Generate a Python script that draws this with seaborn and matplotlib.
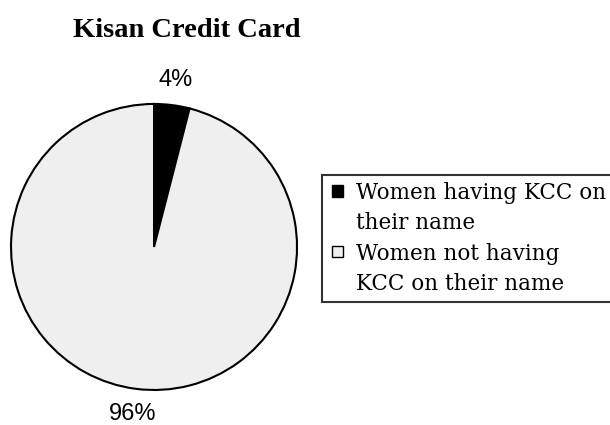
import matplotlib
matplotlib.use("Agg")
import matplotlib.pyplot as plt
import seaborn as sns
from matplotlib.patches import Patch, Rectangle
from matplotlib.legend_handler import HandlerPatch

# data
labels = ["Women having KCC on\ntheir name", "Women not having\nKCC on their name"]
shares = [4, 96]
colors = ["#000000", "#efefef"]

sns.set_style("white")
plt.rcParams["text.color"] = "black"

fig = plt.figure(figsize=(6.1, 4.25), dpi=100)
ax = fig.add_axes([0.018, 0.0824, 0.469, 0.673])

wedges, texts = ax.pie(
    shares,
    colors=colors,
    startangle=90,
    counterclock=False,
    wedgeprops={"edgecolor": "black", "linewidth": 1.5, "clip_on": False},
    labels=[f"{v}%" for v in shares],
    labeldistance=1.18,
    textprops={"family": "Liberation Sans", "fontsize": 17, "color": "black"},
)
for t in texts:
    t.set_horizontalalignment("center")
    t.set_verticalalignment("center")
ax.set_xlim(-1, 1)
ax.set_ylim(-1, 1)
ax.set_aspect("equal")

fig.text(0.307, 0.928, "Kisan Credit Card", ha="center", va="center",
         fontsize=20.5, fontweight="bold", family="Liberation Serif", color="black")


# small square handle sitting next to the first line of a two-line label
def top_square(legend, orig_handle, xdescent, ydescent, width, height, fontsize):
    s = 0.55 * fontsize
    return Rectangle((-xdescent + 0.12 * fontsize, 1.48 * fontsize - s), s, s)


handles = [Patch(facecolor=c, edgecolor="black", linewidth=1) for c in colors]
leg = fig.legend(handles, labels, loc="upper left", bbox_to_anchor=(0.528, 0.588),
                 frameon=True, fancybox=False, edgecolor="black",
                 prop={"family": "DejaVu Serif", "size": 15.5},
                 handlelength=0.65, handleheight=0.55, handletextpad=0.6,
                 borderpad=0.32, labelspacing=0.38, borderaxespad=0,
                 handler_map={Patch: HandlerPatch(patch_func=top_square)})
leg.get_frame().set_linewidth(1.5)
for t in leg.get_texts():
    t.set_color("black")
    t.set_linespacing(1.5)

fig.savefig("out.png", dpi=100)
